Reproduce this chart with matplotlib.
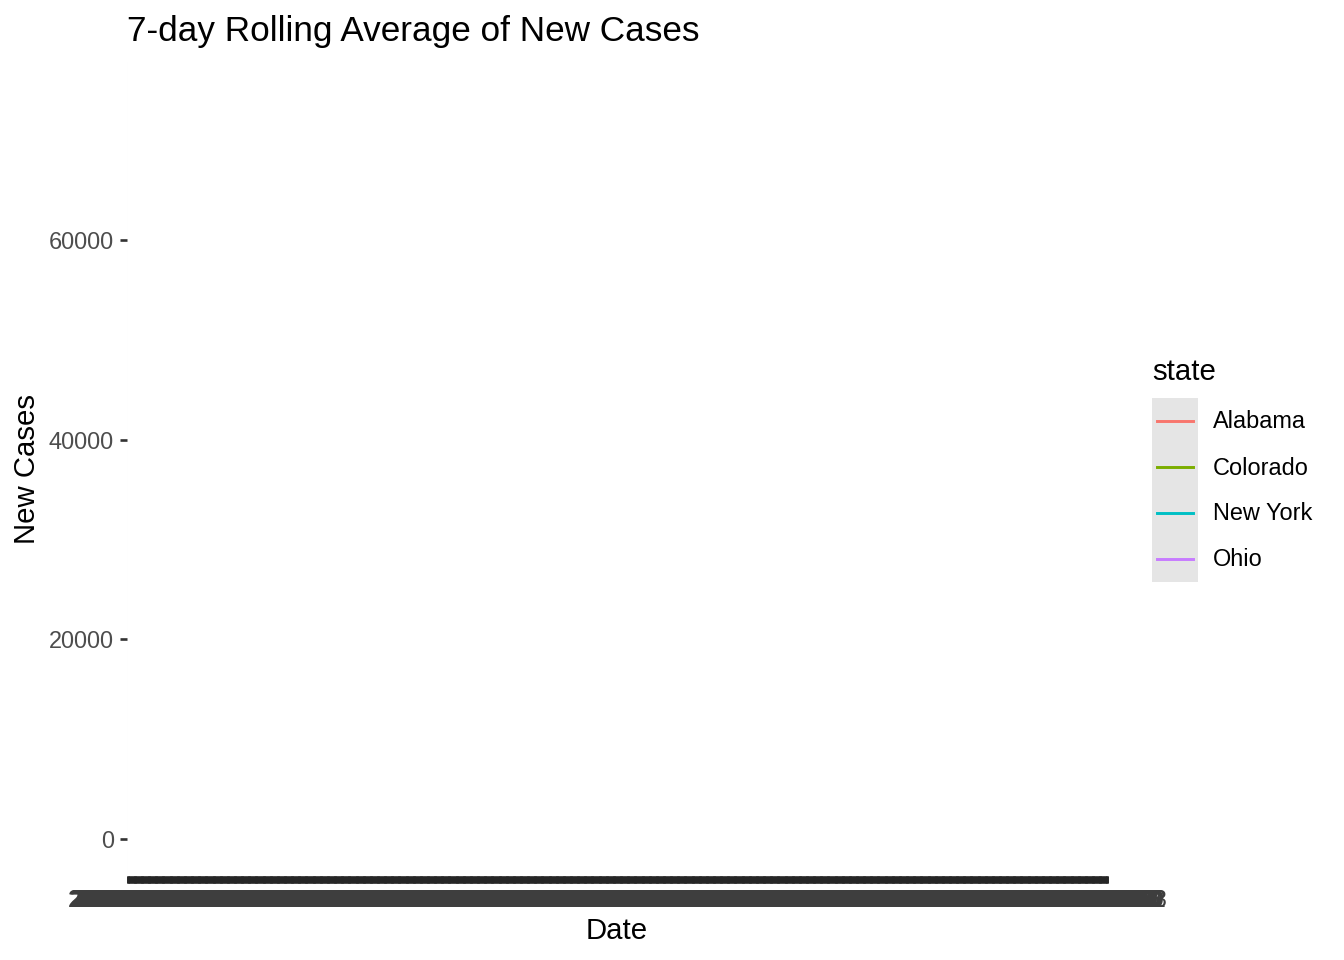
import pandas as pd
import matplotlib
matplotlib.use("Agg")
from matplotlib import pyplot as plt
from matplotlib.patches import Rectangle
from matplotlib.lines import Line2D

plt.rcParams['font.family'] = ['Liberation Sans', 'DejaVu Sans']

# data
states = ["Alabama", "Colorado", "New York", "Ohio"]
state_colors = ["#F8766D", "#7CAE00", "#00BFC4", "#C77CFF"]
first_date = "2020-03-01"
last_date = "2023-03-23"
dates = list(pd.date_range(first_date, last_date).strftime("%Y-%m-%d"))
min_avg = [0, 0, 0, 0]
peak_avg = [13900, 12600, 74124, 23400]
y_ticks = [0, 20000, 40000, 60000]

W, H = 1344, 960
fig = plt.figure(figsize=(7, 5), dpi=192)


def fx(px):
    return px / W


def fy(py):
    return 1 - py / H


ax = fig.add_axes([fx(127), fy(876), fx(1108 - 127), (876 - 62) / H])
ax.set_facecolor("#EBEBEB")
for s in ax.spines.values():
    s.set_visible(False)

n = len(dates)
ax.set_xlim(-0.6, n - 1 + 0.6)
lo, hi = min(min_avg), max(peak_avg)
pad = 0.05 * (hi - lo)
ax.set_ylim(lo - pad, hi + pad)

# the discrete x scale draws one white grid line per date
ax.set_xticks(range(n))
ax.set_xticklabels(dates)
ax.set_yticks(y_ticks)
ax.set_yticklabels([str(v) for v in y_ticks])
ax.set_axisbelow(True)
ax.grid(axis="x", color="white", linewidth=1.07)
ax.grid(axis="y", color="white", linewidth=1.07)
ax.tick_params(axis="both", length=2.75, width=1.0, color="#333333",
               labelsize=8.8, labelcolor="#4D4D4D", pad=2.2)
# overlapping date labels pile up darker in the reference
ax.tick_params(axis="x", color="#262626", labelcolor="#3E3E3E")

# titles
fig.text(fx(127), fy(41), "7-day Rolling Average of New Cases", fontsize=13.2,
         ha="left", va="baseline", color="black")
fig.text(fx(617), fy(931), "Date", fontsize=11, ha="center", va="center")
fig.text(fx(27), fy(469), "New Cases", fontsize=11, ha="center", va="center",
         rotation=90)

# legend
fig.text(fx(1152), fy(372), "state", fontsize=11, ha="left", va="center")
key_h = 46
key_top = 398
fig.patches.append(Rectangle((fx(1152), fy(key_top + key_h * len(states))),
                             fx(46), key_h * len(states) / H,
                             transform=fig.transFigure, facecolor="#E5E5E5",
                             edgecolor="none"))
for i, (st, col) in enumerate(zip(states, state_colors)):
    yc = key_top + key_h * i + key_h / 2
    fig.lines.append(Line2D([fx(1157), fx(1193)], [fy(yc), fy(yc)],
                            transform=fig.transFigure, color=col, linewidth=1.1))
    fig.text(fx(1213), fy(yc + 1), st, fontsize=8.8, ha="left", va="center")

fig.savefig("out.png", dpi=192)
